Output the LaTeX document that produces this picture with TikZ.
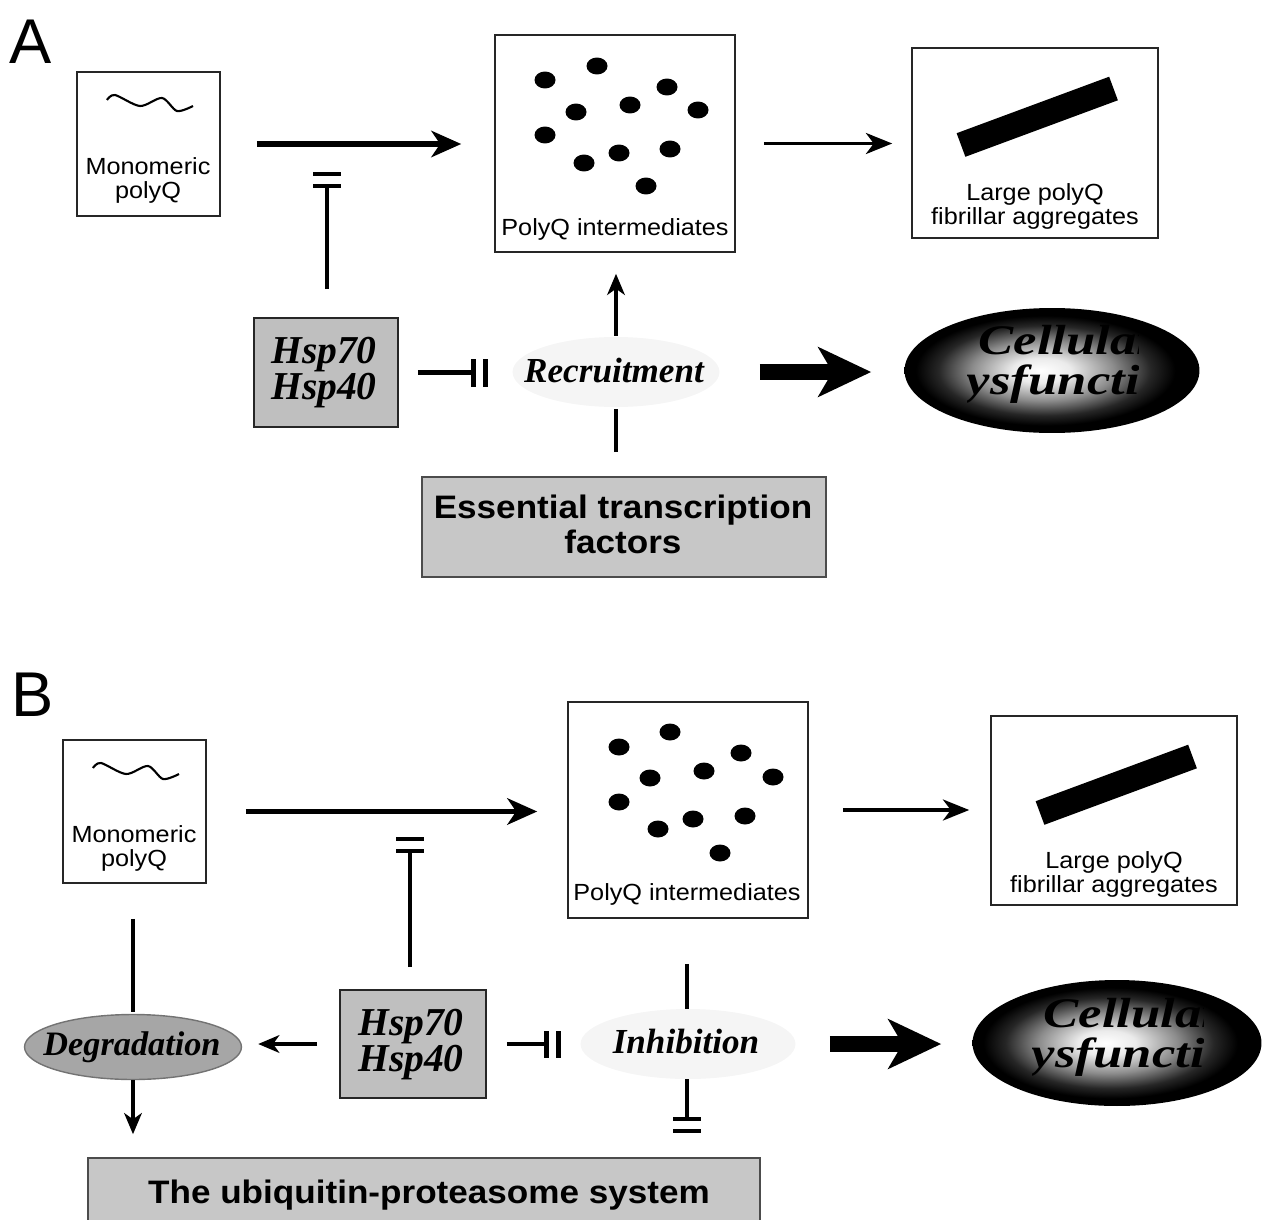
\documentclass[tikz,border=0pt]{standalone}
\usepackage{fontspec}
\setmainfont{Liberation Serif}
\setsansfont{Liberation Sans}
\newfontfamily\wsans[FakeStretch=1.08]{Liberation Sans}
\newfontfamily\wserif[FakeStretch=1.25]{Liberation Serif}
\usetikzlibrary{arrows.meta,fit,calc,shapes.geometric}
\pgfdeclareradialshading{cellshade}{\pgfpoint{-2bp}{0bp}}{color(0bp)=(white); color(5bp)=(white!92!black); color(12bp)=(black!45); color(18bp)=(black!85); color(22bp)=(black); color(50bp)=(black)}
\begin{document}
\begin{tikzpicture}[x=0.02cm,y=-0.02cm,
 box/.style={draw=black!85,line width=0.9pt,inner sep=0pt},
 graybox/.style={box,fill=black!25},
 lbl/.style={font=\wsans\fontsize{13.3}{13.6}\selectfont,align=center,inner sep=0pt},
 hsptxt/.style={font=\bfseries\itshape\fontsize{22.5}{20.4}\selectfont,align=center,inner sep=0pt},
 proctxt/.style={font=\bfseries\itshape\fontsize{20}{20}\selectfont,inner sep=0pt},
 bigtxt/.style={font=\wsans\bfseries\fontsize{18.5}{19.8}\selectfont,align=center,inner sep=0pt},
 celltxt/.style={font=\wserif\bfseries\itshape\fontsize{24}{22.7}\selectfont,align=center,inner sep=0pt,text=black},
 paneltxt/.style={font=\sffamily\fontsize{36}{36}\selectfont,inner sep=0pt},
 dot/.style={fill=black},
 wave/.style={line width=1.2pt},
 fibril/.style={line width=14.3pt},
 arrthick/.style={line width=2.9pt,-{Stealth[length=17pt,width=15pt,inset=5pt]}},
 arrthin/.style={line width=1.8pt,-{Stealth[length=15pt,width=12pt,inset=4.5pt]}},
 arrmid/.style={line width=2.4pt,-{Stealth[length=12pt,width=10pt,inset=3.5pt]}},
 arrbig/.style={line width=8.8pt,-{Stealth[length=30pt,width=28pt,inset=8pt]}},
 link/.style={line width=2.4pt},
 barline/.style={line width=2.8pt},
 faint/.style={ellipse,fill=black!4,inner sep=0pt},
 cellell/.style={ellipse,shade,shading=cellshade,inner sep=0pt},
]
\useasboundingbox (0,0) rectangle (1264,1220);

%% ================= Panel A =================
\node[paneltxt,anchor=base west] (labA) at (9,64) {A};

\node[box,fit={(77,72) (220,216)}] (monoA) {};
\draw[wave] plot[smooth] coordinates {(107,100) (115,95) (140,106) (162,98) (177,111) (193,106)};
\node[lbl,anchor=north] (monoAt) at (148,157) {Monomeric\\polyQ};

\node[box,fit={(495,35) (735,252)}] (interA) {};
\foreach \p in {(545,80),(597,66),(667,87),(576,112),(630,105),(698,110),(545,135),(619,153),(670,149),(584,163),(646,186)}
  \fill[dot] \p ellipse [x radius=0.21cm, y radius=0.17cm];
\node[lbl,anchor=base] (interAt) at (615,235) {PolyQ intermediates};

\node[box,fit={(912,48) (1158,238)}] (fibA) {};
\draw[fibril] (961,145) -- (1113.5,88.5);
\node[lbl,anchor=north] (fibAt) at (1035,183) {Large polyQ\\fibrillar aggregates};

\node[graybox,fit={(254,318) (398,427)}] (hspA) {};
\node[hsptxt,anchor=north] (hspAt) at (324,337) {Hsp70\\Hsp40};

\node[faint,minimum width=4.14cm,minimum height=1.4cm] (recA) at (616,372) {};
\node[proctxt,anchor=base] (recAt) at (614,382) {Recruitment};

\node[graybox,draw=black!70,fill=black!22,fit={(422,477) (826,577)}] (tfA) {};
\node[bigtxt,anchor=north] (tfAt) at (623,495) {Essential transcription\\factors};

\node[cellell,minimum width=5.9cm,minimum height=2.5cm] (cellA) at (1052,370.5) {};
\begin{scope}
  \clip (967,300) rectangle (1138,440);
  \node[celltxt,anchor=north] (cellAt) at (1068,325) {Cellular\\dysfunction};
\end{scope}

% connectors A
\draw[arrthick,shorten <=0.72cm,shorten >=0.66cm] (monoA.east) -- (monoA.east -| interA.west);
\draw[arrthin,shorten <=0.56cm,shorten >=0.38cm] (interA.east) -- (interA.east -| fibA.west);

\coordinate (tA1) at (327,186);
\draw[link,shorten <=0.56cm] (tA1 |- hspA.north) -- (tA1);
\draw[barline] ([xshift=-0.28cm]tA1) -- ([xshift=0.28cm]tA1);
\draw[barline] ([xshift=-0.28cm,yshift=0.24cm]tA1) -- ([xshift=0.28cm,yshift=0.24cm]tA1);

\coordinate (tA2) at ($(hspA.east)+(75,0)$);
\draw[link,shorten <=0.38cm] (hspA.east) -- (tA2);
\draw[barline] ([yshift=-0.28cm]tA2) -- ([yshift=0.28cm]tA2);
\draw[barline] ([xshift=0.24cm,yshift=-0.28cm]tA2) -- ([xshift=0.24cm,yshift=0.28cm]tA2);

\draw[arrmid,shorten <=0.02cm,shorten >=0.42cm] (recA.north) -- (recA.north |- interA.south);
\draw[link,shorten <=0.48cm,shorten >=0.04cm] (recA.south |- tfA.north) -- (recA.south);
\draw[arrbig,shorten <=0.8cm,shorten >=0.66cm] (recA.east) -- (recA.east -| cellA.west);

%% ================= Panel B =================
\node[paneltxt,anchor=base west] (labB) at (11,716) {B};

\node[box,fit={(63,740) (206,883)}] (monoB) {};
\draw[wave] plot[smooth] coordinates {(93,768) (101,763) (126,774) (148,766) (163,779) (179,774)};
\node[lbl,anchor=north] (monoBt) at (134,825) {Monomeric\\polyQ};

\node[box,fit={(568,702) (808,918)}] (interB) {};
\foreach \p in {(619,747),(670,732),(741,753),(650,778),(704,771),(773,777),(619,802),(693,819),(745,816),(658,829),(720,853)}
  \fill[dot] \p ellipse [x radius=0.21cm, y radius=0.17cm];
\node[lbl,anchor=base] (interBt) at (687,900) {PolyQ intermediates};

\node[box,fit={(991,716) (1237,905)}] (fibB) {};
\draw[fibril] (1040,813) -- (1192.5,756.5);
\node[lbl,anchor=north] (fibBt) at (1114,851) {Large polyQ\\fibrillar aggregates};

\node[graybox,fit={(340,990) (486,1098)}] (hspB) {};
\node[hsptxt,anchor=north] (hspBt) at (411,1009) {Hsp70\\Hsp40};

\node[ellipse,fill=black!35,draw=black!55,line width=0.8pt,inner sep=0pt,minimum width=4.34cm,minimum height=1.3cm] (degB) at (133,1047) {};
\node[proctxt,font=\bfseries\itshape\fontsize{19.5}{19.5}\selectfont,anchor=base] (degBt) at (132,1055) {Degradation};

\node[faint,minimum width=4.3cm,minimum height=1.4cm] (inhB) at (688,1044) {};
\node[proctxt,anchor=base] (inhBt) at (686,1053) {Inhibition};

\node[graybox,draw=black!70,fill=black!22,fit={(88,1158) (760,1226)}] (ubB) {};
\node[bigtxt,anchor=base] (ubBt) at (429,1203) {The ubiquitin-proteasome system};

\node[cellell,minimum width=5.78cm,minimum height=2.52cm] (cellB) at (1117,1043) {};
\begin{scope}
  \clip (1032,970) rectangle (1203,1115);
  \node[celltxt,anchor=north] (cellBt) at (1133,998) {Cellular\\dysfunction};
\end{scope}

% connectors B
\draw[arrthick,shorten <=0.78cm,shorten >=0.6cm] (monoB.east) -- (monoB.east -| interB.west);
\draw[arrthin,shorten <=0.68cm,shorten >=0.42cm] (interB.east) -- (interB.east -| fibB.west);

\coordinate (tB1) at (410,851);
\draw[link,shorten <=0.44cm] (tB1 |- hspB.north) -- (tB1);
\draw[barline] ([xshift=-0.28cm]tB1) -- ([xshift=0.28cm]tB1);
\draw[barline] ([xshift=-0.28cm,yshift=0.24cm]tB1) -- ([xshift=0.28cm,yshift=0.24cm]tB1);

\draw[link,shorten <=0.7cm,shorten >=0.04cm] (degB.north |- monoB.south) -- (degB.north);
\draw[arrmid,shorten >=0.46cm] (degB.south) -- (degB.south |- ubB.north);
\draw[arrmid,shorten <=0.44cm,shorten >=0.32cm] (hspB.west) -- (hspB.west -| degB.east);

\coordinate (tB2) at ($(hspB.east)+(60,0)$);
\draw[link,shorten <=0.4cm] (hspB.east) -- (tB2);
\draw[barline] ([yshift=-0.27cm]tB2) -- ([yshift=0.27cm]tB2);
\draw[barline] ([xshift=0.23cm,yshift=-0.27cm]tB2) -- ([xshift=0.23cm,yshift=0.27cm]tB2);

\coordinate (tB3) at (687,1119);
\draw[link,shorten <=0.9cm] (tB3 |- interB.south) -- (tB3 |- inhB.north);
\draw[link] (tB3 |- inhB.south) -- (tB3);
\draw[barline] ([xshift=-0.28cm]tB3) -- ([xshift=0.28cm]tB3);
\draw[barline] ([xshift=-0.28cm,yshift=-0.24cm]tB3) -- ([xshift=0.28cm,yshift=-0.24cm]tB3);

\draw[arrbig,shorten <=0.68cm,shorten >=0.62cm] (inhB.east) -- (inhB.east -| cellB.west);
\end{tikzpicture}
\end{document}
